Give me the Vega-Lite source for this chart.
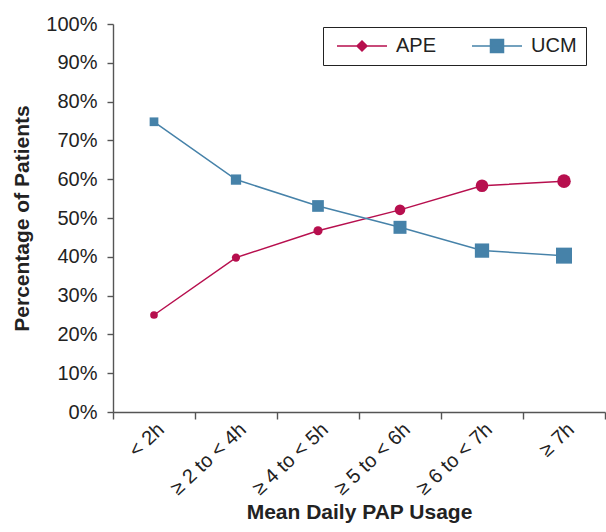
{
  "$schema": "https://vega.github.io/schema/vega-lite/v6.json",
  "width": 492,
  "height": 388,
  "autosize": "none",
  "padding": {"left": 113, "top": 24, "right": 1, "bottom": 120},
  "background": "white",
  "config": {
    "view": {"stroke": null},
    "font": "Liberation Sans",
    "axis": {
      "grid": false,
      "domainColor": "#555",
      "domainWidth": 1.4,
      "tickColor": "#555",
      "tickWidth": 1.4,
      "labelColor": "#222",
      "labelFont": "Liberation Sans",
      "labelFontSize": 20,
      "titleFont": "Liberation Sans",
      "titleFontSize": 21,
      "titleFontWeight": "bold",
      "titleColor": "#222"
    }
  },
  "data": {
    "values": [
      {"usage": "< 2h", "series": "APE", "pct": 25.0},
      {"usage": "≥ 2 to < 4h", "series": "APE", "pct": 39.8},
      {"usage": "≥ 4 to < 5h", "series": "APE", "pct": 46.7},
      {"usage": "≥ 5 to < 6h", "series": "APE", "pct": 52.1},
      {"usage": "≥ 6 to < 7h", "series": "APE", "pct": 58.3},
      {"usage": "≥ 7h", "series": "APE", "pct": 59.5},
      {"usage": "< 2h", "series": "UCM", "pct": 74.8},
      {"usage": "≥ 2 to < 4h", "series": "UCM", "pct": 59.9},
      {"usage": "≥ 4 to < 5h", "series": "UCM", "pct": 53.1},
      {"usage": "≥ 5 to < 6h", "series": "UCM", "pct": 47.6},
      {"usage": "≥ 6 to < 7h", "series": "UCM", "pct": 41.6},
      {"usage": "≥ 7h", "series": "UCM", "pct": 40.3}
    ]
  },
  "encoding": {
    "x": {
      "field": "usage",
      "type": "nominal",
      "sort": ["< 2h", "≥ 2 to < 4h", "≥ 4 to < 5h", "≥ 5 to < 6h", "≥ 6 to < 7h", "≥ 7h"],
      "scale": {"type": "band", "paddingInner": 0, "paddingOuter": 0},
      "axis": {
        "title": "Mean Daily PAP Usage",
        "labelAngle": -43,
        "labelAlign": "right",
        "labelBaseline": "top",
        "tickBand": "extent",
        "tickSize": 7,
        "labelPadding": 0,
        "labelDx": 20,
        "titlePadding": 3
      }
    },
    "y": {
      "field": "pct",
      "type": "quantitative",
      "scale": {"domain": [0, 100], "nice": false, "zero": true},
      "axis": {
        "title": "Percentage of Patients",
        "values": [0, 10, 20, 30, 40, 50, 60, 70, 80, 90, 100],
        "labelExpr": "datum.value + '%'",
        "tickSize": 6,
        "labelPadding": 10,
        "titleX": -91,
        "titleBaseline": "middle"
      }
    }
  },
  "layer": [
    {
      "mark": {"type": "line", "strokeWidth": 1.5},
      "encoding": {
        "color": {
          "field": "series",
          "type": "nominal",
          "scale": {"domain": ["APE", "UCM"], "range": ["#b70f4e", "#4682a9"]},
          "legend": {
            "orient": "none",
            "legendX": 210,
            "legendY": 3,
            "direction": "horizontal",
            "title": null,
            "strokeColor": "#222",
            "fillColor": "white",
            "padding": 9,
            "symbolSize": 100,
            "symbolStrokeWidth": 1.5,
            "labelOffset": 44,
            "labelFontSize": 20,
            "labelColor": "#222",
            "labelFont": "Liberation Sans",
            "columnPadding": 30,
            "encode": {
              "symbols": {
                "update": {
                  "shape": {"signal": "datum.value === 'APE' ? 'M-1,0H9M4,-1L5,0L4,1L3,0Z' : 'M-1,0H9M2.7,-1.3H5.3V1.3H2.7Z'"},
                  "fill": {"signal": "datum.value === 'APE' ? '#b70f4e' : '#4682a9'"},
                  "stroke": {"signal": "datum.value === 'APE' ? '#b70f4e' : '#4682a9'"},
                  "strokeWidth": {"value": 1.5},
                  "opacity": {"value": 1}
                }
              }
            }
          }
        }
      }
    },
    {
      "transform": [{"filter": "datum.series === 'APE'"}],
      "mark": {"type": "point", "shape": "circle", "filled": true, "opacity": 1, "color": "#b70f4e"},
      "encoding": {
        "size": {
          "field": "usage",
          "type": "ordinal",
          "sort": ["< 2h", "≥ 2 to < 4h", "≥ 4 to < 5h", "≥ 5 to < 6h", "≥ 6 to < 7h", "≥ 7h"],
          "scale": {"type": "ordinal", "range": [59, 68, 83, 113, 160, 184]},
          "legend": null
        }
      }
    },
    {
      "transform": [{"filter": "datum.series === 'UCM'"}],
      "mark": {"type": "point", "shape": "square", "filled": true, "opacity": 1, "color": "#4682a9"},
      "encoding": {
        "size": {
          "field": "usage",
          "type": "ordinal",
          "sort": ["< 2h", "≥ 2 to < 4h", "≥ 4 to < 5h", "≥ 5 to < 6h", "≥ 6 to < 7h", "≥ 7h"],
          "scale": {"type": "ordinal", "range": [76, 106, 137, 169, 204, 256]},
          "legend": null
        }
      }
    }
  ],
  "resolve": {"scale": {"size": "independent"}}
}
